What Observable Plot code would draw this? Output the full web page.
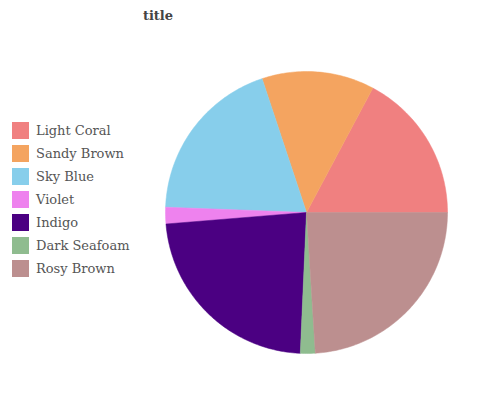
<!DOCTYPE html>
<html>
<head>
<meta charset="utf-8">
<script src="https://cdn.jsdelivr.net/npm/d3@7"></script>
<script src="https://cdn.jsdelivr.net/npm/@observablehq/plot@0.6"></script>
<style>
  html, body { margin: 0; padding: 0; background: #fff; }
  #wrap { position: relative; width: 478px; height: 400px; overflow: hidden; }
  #wrap svg { position: absolute; left: 0; top: 0; }
  #title { position: absolute; left: 0; width: 316px; top: 6px; text-align: center;
           font: bold 13px "DejaVu Serif", serif; color: #444; line-height: 20px; }
  #legend { position: absolute; left: 12px; top: 122px; font: 13px "DejaVu Serif", serif; color: #555; }
  .row { display: flex; align-items: center; height: 17px; margin-bottom: 6px; }
  .sw { width: 17px; height: 17px; margin-right: 7px; }
</style>
</head>
<body>
<div id="wrap">
  <div id="title">title</div>
  <div id="legend"></div>
</div>
<script>
const categories = ["Light Coral", "Sandy Brown", "Sky Blue", "Violet", "Indigo", "Dark Seafoam", "Rosy Brown"];
const values = [17.2, 12.9, 19.3, 1.9, 23.0, 1.7, 24.0];
const colors = ["#F08080", "#F4A460", "#87CEEB", "#EE82EE", "#4B0082", "#8FBC8F", "#BC8F8F"];

// Build slice outlines (counterclockwise from 3 o'clock) from the values
const total = d3.sum(values);
const pts = [];
let a0 = 0;
categories.forEach((c, i) => {
  const a1 = a0 + values[i] / total * 2 * Math.PI;
  pts.push({cat: c, x: 0, y: 0});
  const n = Math.max(2, Math.ceil((a1 - a0) / (Math.PI / 180)));
  for (let k = 0; k <= n; k++) {
    const a = a0 + (a1 - a0) * k / n;
    pts.push({cat: c, x: Math.cos(a), y: Math.sin(a)});
  }
  pts.push({cat: c, x: 0, y: 0});
  a0 = a1;
});

const chart = Plot.plot({
  width: 478,
  height: 400,
  marginLeft: 165,
  marginRight: 31,
  marginTop: 71,
  marginBottom: 47,
  x: {domain: [-1, 1], axis: null},
  y: {domain: [-1, 1], axis: null},
  color: {domain: categories, range: colors},
  marks: [
    Plot.line(pts, {x: "x", y: "y", z: "cat", fill: "cat", stroke: "cat", strokeWidth: 0.5, curve: "linear"})
  ]
});
document.getElementById("wrap").prepend(chart);

const legend = document.getElementById("legend");
categories.forEach((c, i) => {
  const row = document.createElement("div");
  row.className = "row";
  const sw = document.createElement("div");
  sw.className = "sw";
  sw.style.background = colors[i];
  const t = document.createElement("span");
  t.textContent = c;
  row.appendChild(sw);
  row.appendChild(t);
  legend.appendChild(row);
});
</script>
</body>
</html>
